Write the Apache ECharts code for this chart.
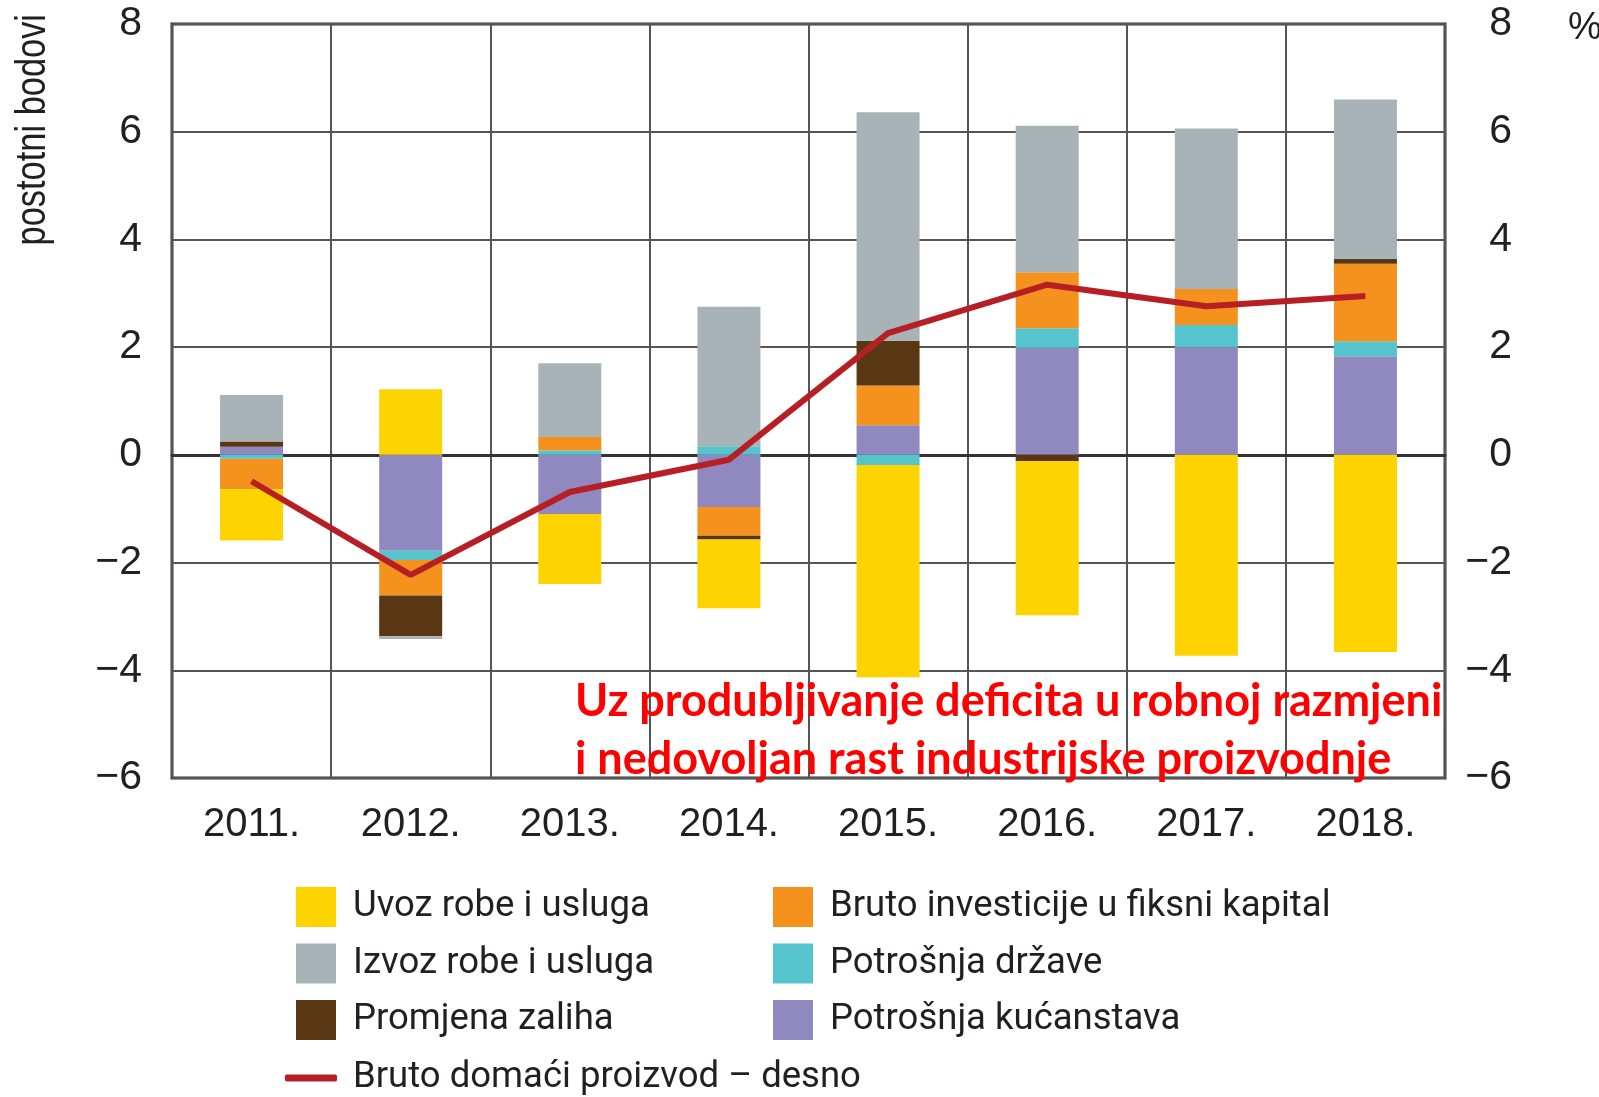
<!DOCTYPE html>
<html>
<head>
<meta charset="utf-8">
<script src="https://cdn.jsdelivr.net/npm/echarts@6/dist/echarts.min.js"></script>
<style>
  html, body { margin: 0; padding: 0; background: #fff; }
  #chart { width: 1599px; height: 1097px; }
</style>
</head>
<body>
<div id="chart"></div>
<script>
  // godine
  var years = ['2011.', '2012.', '2013.', '2014.', '2015.', '2016.', '2017.', '2018.'];

  // doprinosi rastu, postotni bodovi (redoslijed slaganja od nule prema van)
  var potrosnjaKucanstava = [0.15, -1.78, -1.10, -0.97, 0.55, 1.99, 2.00, 1.83];
  var potrosnjaDrzave = [-0.07, -0.17, 0.08, 0.16, -0.19, 0.36, 0.41, 0.28];
  var brutoInvesticije = [-0.57, -0.66, 0.25, -0.53, 0.74, 1.04, 0.67, 1.44];
  var promjenaZaliha = [0.10, -0.76, 0, -0.07, 0.83, -0.12, 0, 0.09];
  var izvoz = [0.86, -0.05, 1.37, 2.59, 4.24, 2.72, 2.98, 2.96];
  var uvoz = [-0.95, 1.22, -1.30, -1.28, -3.94, -2.86, -3.73, -3.66];

  // BDP, % (desna os)
  var bdp = [-0.49, -2.23, -0.69, -0.09, 2.26, 3.16, 2.76, 2.95];

  var yTicks = { min: -6, max: 8, interval: 2 };

  var ink = '#231f20';
  var legendFont = "Roboto, 'Liberation Sans', sans-serif";
  var regular = "'Liberation Sans', Arial, sans-serif";

  var chart = echarts.init(document.getElementById('chart'));

  function minus(v) {
    return String(v).replace('-', '\u2212');
  }

  function barSeries(name, data, color) {
    return {
      name: name,
      type: 'bar',
      stack: 'doprinos',
      barWidth: 63,
      data: data,
      itemStyle: { color: color },
      emphasis: { disabled: true }
    };
  }

  var legendText = {
    fontFamily: legendFont,
    fontSize: 36.5,
    lineHeight: 34,
    color: ink,
    padding: [6, 0, 0, 12]
  };

  chart.setOption({
    animation: false,
    grid: {
      left: 172, right: 154, top: 24, bottom: 319,
      show: true,
      borderColor: '#333',
      borderWidth: 3,
      backgroundColor: 'transparent'
    },
    legend: [{
      orient: 'vertical',
      left: 296, top: 887,
      padding: 0,
      itemWidth: 40, itemHeight: 40, itemGap: 16.5,
      icon: 'rect',
      selectedMode: false,
      textStyle: legendText,
      data: ['Uvoz robe i usluga', 'Izvoz robe i usluga', 'Promjena zaliha']
    }, {
      orient: 'vertical',
      left: 773, top: 887,
      padding: 0,
      itemWidth: 40, itemHeight: 40, itemGap: 16.5,
      icon: 'rect',
      selectedMode: false,
      textStyle: legendText,
      data: ['Bruto investicije u fiksni kapital', 'Potrošnja države', 'Potrošnja kućanstava']
    }, {
      orient: 'vertical',
      left: 285, top: 1058,
      padding: 0,
      itemWidth: 52, itemHeight: 7,
      selectedMode: false,
      textStyle: {
        fontFamily: legendFont, fontSize: 36.5, lineHeight: 40, color: ink,
        padding: [0, 0, 0, 11]
      },
      data: [{ name: 'Bruto domaći proizvod – desno', icon: 'roundRect' }]
    }],
    xAxis: {
      type: 'category',
      data: years,
      axisTick: { show: false },
      axisLine: { show: true, lineStyle: { color: '#333', width: 3 } },
      axisLabel: { fontFamily: regular, fontSize: 40, color: ink, margin: 27 },
      splitLine: { show: true, lineStyle: { color: '#555', width: 2 } }
    },
    yAxis: [{
      type: 'value',
      min: yTicks.min, max: yTicks.max, interval: yTicks.interval,
      axisLine: { show: false },
      axisTick: { show: false },
      axisLabel: {
        fontFamily: regular, fontSize: 41, color: ink, margin: 30,
        formatter: minus
      },
      splitLine: {
        show: true,
        lineStyle: {
          color: ['#555', '#555', '#555', '#222', '#555', '#555', '#555', '#555'],
          width: 2
        }
      }
    }, {
      type: 'value',
      position: 'right',
      min: yTicks.min, max: yTicks.max, interval: yTicks.interval,
      axisLine: { show: false },
      axisTick: { show: false },
      axisLabel: {
        fontFamily: regular, fontSize: 41, color: ink, margin: 67, align: 'right',
        formatter: minus
      },
      splitLine: { show: false }
    }],
    series: [
      barSeries('Potrošnja kućanstava', potrosnjaKucanstava, '#8f89c0'),
      barSeries('Potrošnja države', potrosnjaDrzave, '#55c4cc'),
      barSeries('Bruto investicije u fiksni kapital', brutoInvesticije, '#f5921e'),
      barSeries('Promjena zaliha', promjenaZaliha, '#5a3713'),
      barSeries('Izvoz robe i usluga', izvoz, '#a8b3b8'),
      barSeries('Uvoz robe i usluga', uvoz, '#fdd400'),
      {
        name: 'Bruto domaći proizvod – desno',
        type: 'line',
        yAxisIndex: 1,
        data: bdp,
        symbol: 'none',
        z: 5,
        lineStyle: { color: '#b71f24', width: 6 },
        itemStyle: { color: '#b71f24' },
        emphasis: { disabled: true }
      }
    ],
    graphic: [{
      type: 'text',
      x: 12, y: 14,
      rotation: Math.PI / 2,
      scaleX: 0.8,
      style: {
        text: 'postotni bodovi',
        fontFamily: regular, fontSize: 43, fill: ink,
        align: 'right', verticalAlign: 'top'
      }
    }, {
      type: 'text',
      x: 1568, y: 10,
      style: { text: '%', fontFamily: regular, fontSize: 38, fill: ink }
    }, {
      type: 'text',
      x: 575, y: 679,
      z: 10,
      style: {
        text: 'Uz produbljivanje deficita u robnoj razmjeni',
        fontFamily: 'Lato, sans-serif', fontWeight: 'bold', fontSize: 45, fill: '#ff0000'
      }
    }, {
      type: 'text',
      x: 575, y: 737,
      z: 10,
      style: {
        text: 'i nedovoljan rast industrijske proizvodnje',
        fontFamily: 'Lato, sans-serif', fontWeight: 'bold', fontSize: 45, fill: '#ff0000'
      }
    }]
  });
</script>
</body>
</html>
